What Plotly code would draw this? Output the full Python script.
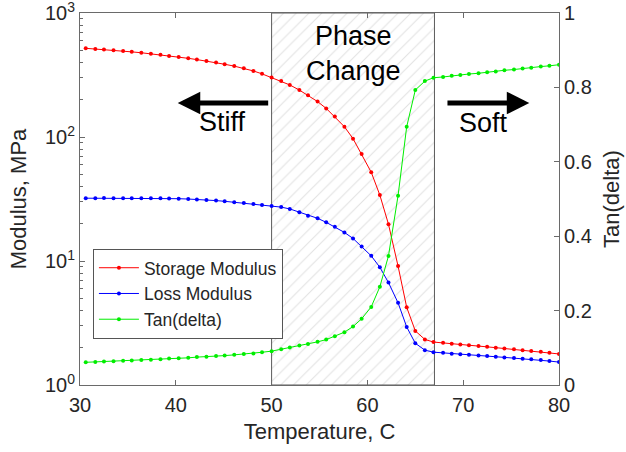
import plotly.graph_objects as go

# ---------------- data ----------------
temperature = [30.6, 31.6, 32.5, 33.5, 34.5, 35.4, 36.4, 37.4, 38.4, 39.3, 40.3, 41.3, 42.2, 43.2,
               44.2, 45.1, 46.1, 47.1, 48.1, 49.0, 50.0,
               51.0, 51.9, 52.9, 53.8, 54.8, 55.7, 56.6, 57.6, 58.5, 59.4, 60.4, 61.3, 62.2, 63.2,
               64.1, 65.0, 66.0, 66.9,
               67.9, 68.8, 69.7, 70.6, 71.6, 72.5, 73.4, 74.3, 75.3, 76.2, 77.1, 78.1, 79.0, 80.0]

storage_modulus = [519, 513, 507, 500, 493, 486, 478, 469, 460, 451, 441, 431, 421, 410,
                   398, 386, 373, 358, 341, 323, 302,
                   283, 263, 239, 217, 193, 170, 146, 121, 97, 73, 52, 34, 19.8, 9.1,
                   4.24, 2.73, 2.33, 2.22,
                   2.19, 2.15, 2.12, 2.09, 2.06, 2.03, 2.00, 1.97, 1.94, 1.91, 1.88, 1.85, 1.82, 1.78]

loss_modulus = [32.1, 32.1, 32.2, 32.1, 32.1, 32.1, 32.1, 32.0, 32.0, 31.9, 31.8, 31.6, 31.4, 31.1,
                30.7, 30.3, 29.8, 29.3, 28.8, 28.3, 27.8,
                27.2, 26.3, 24.7, 23.2, 22.1, 20.5, 18.9, 17.0, 15.2, 13.1, 11.0, 8.9, 6.7, 4.6,
                2.94, 2.17, 1.91, 1.84,
                1.82, 1.79, 1.77, 1.75, 1.73, 1.71, 1.69, 1.67, 1.65, 1.63, 1.61, 1.59, 1.56, 1.53]

tan_delta = [0.061, 0.062, 0.063, 0.064, 0.065, 0.066, 0.067, 0.068, 0.069, 0.071, 0.072, 0.073, 0.075, 0.076,
             0.078, 0.079, 0.081, 0.083, 0.085, 0.088, 0.091,
             0.096, 0.101, 0.106, 0.110, 0.116, 0.122, 0.131, 0.142, 0.157, 0.178, 0.210, 0.264, 0.347, 0.509,
             0.694, 0.793, 0.817, 0.826,
             0.828, 0.831, 0.833, 0.836, 0.838, 0.841, 0.843, 0.846, 0.848, 0.851, 0.853, 0.856, 0.858, 0.861]

phase_start, phase_end = 50, 67
x_ticks = [30, 40, 50, 60, 70, 80]
y_ticks = [1, 10, 100, 1000]
y_ticktext = ["10<sup>0</sup>", "10<sup>1</sup>", "10<sup>2</sup>", "10<sup>3</sup>"]
y_minor = [m * d for d in (1, 10, 100) for m in range(2, 10)]
y2_ticks = [0, 0.2, 0.4, 0.6, 0.8, 1]

FONT = "Liberation Sans, Arial, sans-serif"
TXT = "#262626"
AX = "#6a6a6a"

fig = go.Figure()

# hatched phase-change region
fig.add_trace(go.Scatter(
    x=[phase_start, phase_end, phase_end, phase_start, phase_start],
    y=[1, 1, 1000, 1000, 1],
    mode="lines", fill="toself",
    line=dict(color="#5a5a5a", width=1),
    fillcolor="white",
    fillpattern=dict(shape="/", fgcolor="#c4c4c4", bgcolor="white", size=9, solidity=0.12),
    showlegend=False, hoverinfo="skip",
))

fig.add_trace(go.Scatter(x=temperature, y=storage_modulus, name="Storage Modulus",
                         mode="lines+markers", line=dict(color="#ff0000", width=1),
                         marker=dict(color="#ff0000", size=4)))
fig.add_trace(go.Scatter(x=temperature, y=loss_modulus, name="Loss Modulus",
                         mode="lines+markers", line=dict(color="#0000ff", width=1),
                         marker=dict(color="#0000ff", size=4)))
fig.add_trace(go.Scatter(x=temperature, y=tan_delta, name="Tan(delta)", yaxis="y2",
                         mode="lines+markers", line=dict(color="#00ee00", width=1),
                         marker=dict(color="#00ee00", size=4)))

tfont = dict(size=27, color="black", family=FONT)
annotations = [
    dict(x=(phase_start + phase_end) / 2, y=0.892, xref="x", yref="paper",
         xanchor="center", yanchor="middle",
         text="Phase<br>Change", showarrow=False, font=tfont),
    dict(x=44.9, y=0.707, xref="x", yref="paper", xanchor="center", yanchor="middle",
         text="Stiff", showarrow=False, font=tfont),
    dict(x=72.1, y=0.705, xref="x", yref="paper", xanchor="center", yanchor="middle",
         text="Soft", showarrow=False, font=tfont),
    dict(x=40.2, y=0.758, xref="x", yref="paper", ax=49.8, ay=0, axref="x", ayref="pixel",
         text="", showarrow=True, arrowhead=2, arrowsize=0.9, arrowwidth=5, arrowcolor="black", standoff=0),
    dict(x=76.9, y=0.758, xref="x", yref="paper", ax=68.2, ay=0, axref="x", ayref="pixel",
         text="", showarrow=True, arrowhead=2, arrowsize=0.9, arrowwidth=5, arrowcolor="black", standoff=0),
]

fig.update_layout(
    width=626, height=452,
    margin=dict(l=80, r=67, t=13, b=67),
    paper_bgcolor="white", plot_bgcolor="white",
    font=dict(family=FONT, size=20, color=TXT),
    annotations=annotations,
    legend=dict(x=0.027, y=0.366, xanchor="left", yanchor="top",
                bgcolor="white", bordercolor="#555555", borderwidth=1,
                font=dict(size=17.5, color=TXT, family=FONT),
                tracegroupgap=0, itemwidth=40),
    xaxis=dict(range=[30, 80], tickvals=x_ticks, ticks="inside", ticklen=5,
               tickcolor=AX, showline=True, linecolor=AX, linewidth=1, mirror="ticks",
               showgrid=False, zeroline=False, automargin=False, ticklabelstandoff=2,
               ticklabeloverflow="allow",
               title=dict(text="Temperature, C", font=dict(size=22, color=TXT), standoff=8),
               tickfont=dict(size=20, color=TXT)),
    yaxis=dict(type="log", range=[0, 3], tickvals=y_ticks, ticktext=y_ticktext,
               ticks="inside", ticklen=5, tickcolor=AX, showline=True, linecolor=AX,
               linewidth=1, showgrid=False, zeroline=False, automargin=False,
               ticklabeloverflow="allow",
               minor=dict(tickvals=y_minor, ticks="inside", ticklen=3, tickcolor=AX, showgrid=False),
               title=dict(text="Modulus, MPa", font=dict(size=22, color=TXT), standoff=12),
               tickfont=dict(size=20, color=TXT)),
    yaxis2=dict(overlaying="y", side="right", range=[0, 1], tickvals=y2_ticks,
                ticks="inside", ticklen=5, tickcolor=AX, showline=True, linecolor=AX,
                linewidth=1, showgrid=False, zeroline=False, automargin=False,
                ticklabeloverflow="allow",
                title=dict(text="Tan(delta)", font=dict(size=22, color=TXT), standoff=12),
                tickfont=dict(size=20, color=TXT)),
)

fig.write_html("out.html")
